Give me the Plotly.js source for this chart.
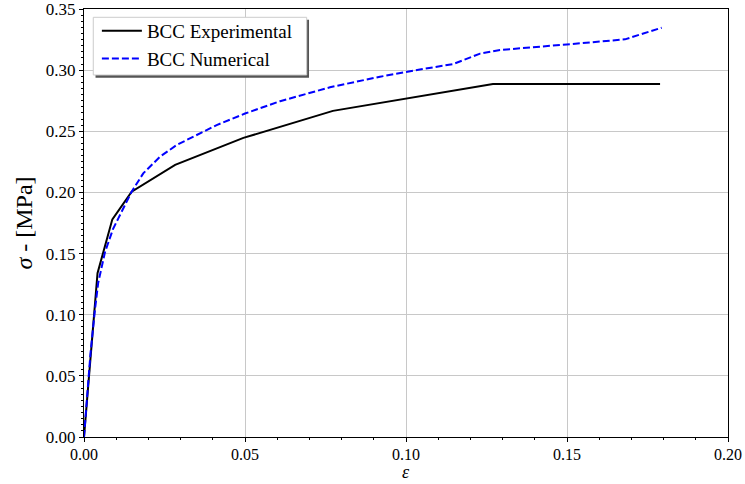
<!DOCTYPE html>
<html>
<head>
<meta charset="utf-8">
<script src="https://cdn.plot.ly/plotly-3.0.1.min.js"></script>
<style>html,body{margin:0;padding:0;background:#fff;}#chart{width:745px;height:484px;}</style>
</head>
<body>
<div id="chart"></div>
<script>
// Data
const expStrain = [0.0, 0.0042, 0.0088, 0.0148, 0.0283, 0.0495, 0.0773, 0.1270, 0.1789];
const expStress = [0.0, 0.134, 0.178, 0.2006, 0.2225, 0.2446, 0.2667, 0.2887, 0.2887];

const numStrain = [0.0, 0.0020, 0.0034, 0.0044, 0.0065, 0.0090, 0.0107, 0.0148, 0.0184, 0.0236, 0.0288, 0.035, 0.0412, 0.050, 0.0609, 0.0764, 0.0919, 0.1043, 0.1147, 0.1230, 0.1292, 0.1499, 0.1680, 0.1794];
const numStress = [0.0, 0.068, 0.104, 0.126, 0.151, 0.170, 0.179, 0.2006, 0.2156, 0.2292, 0.2388, 0.247, 0.2551, 0.2645, 0.2746, 0.2860, 0.2946, 0.3005, 0.305, 0.3135, 0.3165, 0.321, 0.3252, 0.3347];

const seriesNames = ["BCC Experimental", "BCC Numerical"];
const xTitle = "<i>ε</i>";
const yTitle = "<i>σ</i> - [MPa]";
const xTickVals = [0, 0.05, 0.10, 0.15, 0.20];
const xTickText = ["0.00", "0.05", "0.10", "0.15", "0.20"];
const yTickVals = [0, 0.05, 0.10, 0.15, 0.20, 0.25, 0.30, 0.35];
const yTickText = ["0.00", "0.05", "0.10", "0.15", "0.20", "0.25", "0.30", "0.35"];

const font = "Liberation Serif";

const traces = [
  {x: expStrain, y: expStress, name: seriesNames[0], mode: "lines",
   line: {color: "#000000", width: 2}},
  {x: numStrain, y: numStress, name: seriesNames[1], mode: "lines",
   line: {color: "#0000ff", width: 2, dash: "7px,3px"}}
];

function axis(extra) {
  return Object.assign({
    showline: true, linecolor: "#000", linewidth: 1, mirror: true,
    ticks: "outside", ticklen: 4, tickwidth: 1, tickcolor: "#000",
    showgrid: true, gridcolor: "#c8c8c8", gridwidth: 1,
    zeroline: false, ticklabeloverflow: "allow",
    tickfont: {family: font, size: 17, color: "#000"}
  }, extra);
}

const layout = {
  width: 745, height: 484,
  margin: {l: 84, r: 17, t: 9, b: 47},
  paper_bgcolor: "#fff", plot_bgcolor: "#fff",
  font: {family: font, color: "#000"},
  xaxis: axis({
    range: [0, 0.2], tickmode: "array", tickvals: xTickVals, ticktext: xTickText,
    tickfont: {family: font, size: 16, color: "#000"}, ticklabelstandoff: -1,
    minor: {dtick: 0.01, ticks: "outside", ticklen: 2, tickcolor: "#000", showgrid: false}
  }),
  yaxis: axis({
    range: [0, 0.35], tickmode: "array", tickvals: yTickVals, ticktext: yTickText,
    minor: {dtick: 0.005, ticks: "outside", ticklen: 2, tickcolor: "#000", showgrid: false},
    title: {text: yTitle, font: {family: font, size: 24}, standoff: 6}
  }),
  annotations: [
    {text: xTitle, xref: "paper", yref: "paper", x: 0.5, y: -0.1075,
     xanchor: "center", yanchor: "bottom", showarrow: false, borderpad: 0,
     font: {family: font, size: 18, color: "#000"}}
  ],
  showlegend: true,
  legend: {
    x: 0.02, y: 0.993, xanchor: "left", yanchor: "top",
    bgcolor: "rgba(0,0,0,0)", borderwidth: 0,
    font: {family: font, size: 19, color: "#000"},
    itemwidth: 40,
    tracegroupgap: 0
  },
  shapes: [
    {type: "rect", xref: "paper", yref: "paper", layer: "above",
     x0: 0.0179, x1: 0.3494, y0: 0.8395, y1: 0.975,
     fillcolor: "#555555", line: {width: 0}},
    {type: "rect", xref: "paper", yref: "paper", layer: "above",
     x0: 0.0144, x1: 0.3458, y0: 0.8458, y1: 0.9806,
     fillcolor: "#ffffff", line: {color: "#cccccc", width: 1}}
  ]
};

Plotly.newPlot("chart", traces, layout, {displayModeBar: false, staticPlot: true});
</script>
</body>
</html>
